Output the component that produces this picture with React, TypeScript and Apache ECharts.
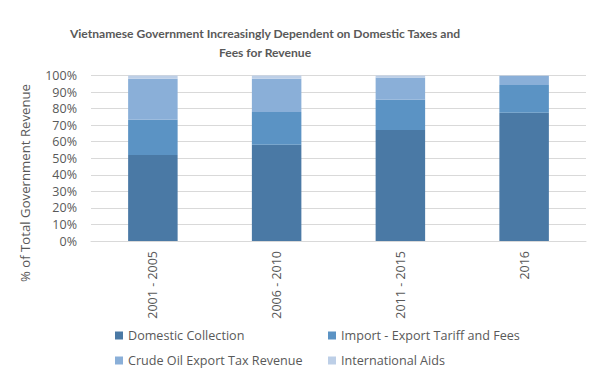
import React, { useEffect, useRef } from "react";
import * as echarts from "echarts";

const categories = ["2001 - 2005", "2006 - 2010", "2011 - 2015", "2016"];
const domestic = [52, 58.1, 67.1, 77.5];
const importExport = [21.2, 19.9, 18.2, 16.8];
const crudeOil = [24.8, 20.0, 13.5, 5.6];
const intlAids = [2.0, 2.0, 1.2, 0.1];

const seriesNames = [
  "Domestic Collection",
  "Import - Export Tariff and Fees",
  "Crude Oil Export Tax Revenue",
  "International Aids",
];
const colors = ["#4A79A5", "#5B93C4", "#8AAFD8", "#BDCFE7"];

const FONT = "'Open Sans', 'Liberation Sans', sans-serif";

export default function App() {
  const ref = useRef<HTMLDivElement>(null);
  useEffect(() => {
    if (!ref.current) return;
    const chart = echarts.init(ref.current, null, { renderer: "svg" });
    const data = [domestic, importExport, crudeOil, intlAids];
    chart.setOption({
      animation: false,
      backgroundColor: "#ffffff",
      title: {
        text: "Vietnamese Government Increasingly Dependent on Domestic Taxes and\nFees for Revenue",
        left: 260,
        top: 19,
        textAlign: "center",
        textStyle: {
          fontFamily: "Lato, sans-serif",
          fontSize: 12.1,
          fontWeight: "bold",
          color: "#595959",
          lineHeight: 19,
        },
      },
      graphic: [
        {
          type: "text",
          x: 25,
          y: 183,
          rotation: Math.PI / 2,
          style: {
            text: "% of Total Government Revenue",
            fontFamily: FONT,
            fontSize: 13.2,
            fill: "#595959",
            align: "center",
            verticalAlign: "middle",
          },
        },
      ],
      legend: [
        {
          orient: "vertical",
          left: 110,
          top: 324,
          itemWidth: 8,
          itemHeight: 8,
          itemGap: 12,
          icon: "rect",
          data: [seriesNames[0], seriesNames[2]],
          textStyle: { fontFamily: FONT, fontSize: 12.6, color: "#595959" },
        },
        {
          orient: "vertical",
          left: 323,
          top: 324,
          itemWidth: 8,
          itemHeight: 8,
          itemGap: 12,
          icon: "rect",
          data: [seriesNames[1], seriesNames[3]],
          textStyle: { fontFamily: FONT, fontSize: 12.6, color: "#595959" },
        },
      ],
      grid: { left: 91, right: 20, top: 75.5, bottom: 136 },
      xAxis: {
        type: "category",
        data: categories,
        axisLine: { lineStyle: { color: "#D9D9D9" } },
        axisTick: { show: false },
        axisLabel: {
          rotate: 90,
          margin: 10,
          fontFamily: FONT,
          fontSize: 12.5,
          color: "#595959",
        },
      },
      yAxis: {
        type: "value",
        min: 0,
        max: 100,
        interval: 10,
        axisLine: { show: false },
        axisTick: { show: false },
        axisLabel: {
          formatter: "{value}%",
          margin: 14,
          fontFamily: FONT,
          fontSize: 12.5,
          color: "#595959",
        },
        splitLine: { lineStyle: { color: "#D9D9D9" } },
      },
      series: seriesNames.map((name, i) => ({
        name,
        type: "bar",
        stack: "total",
        barWidth: "40%",
        data: data[i],
        itemStyle: { color: colors[i] },
      })),
    });
    return () => chart.dispose();
  }, []);
  return <div ref={ref} style={{ width: 606, height: 377, margin: -8 }} />;
}
